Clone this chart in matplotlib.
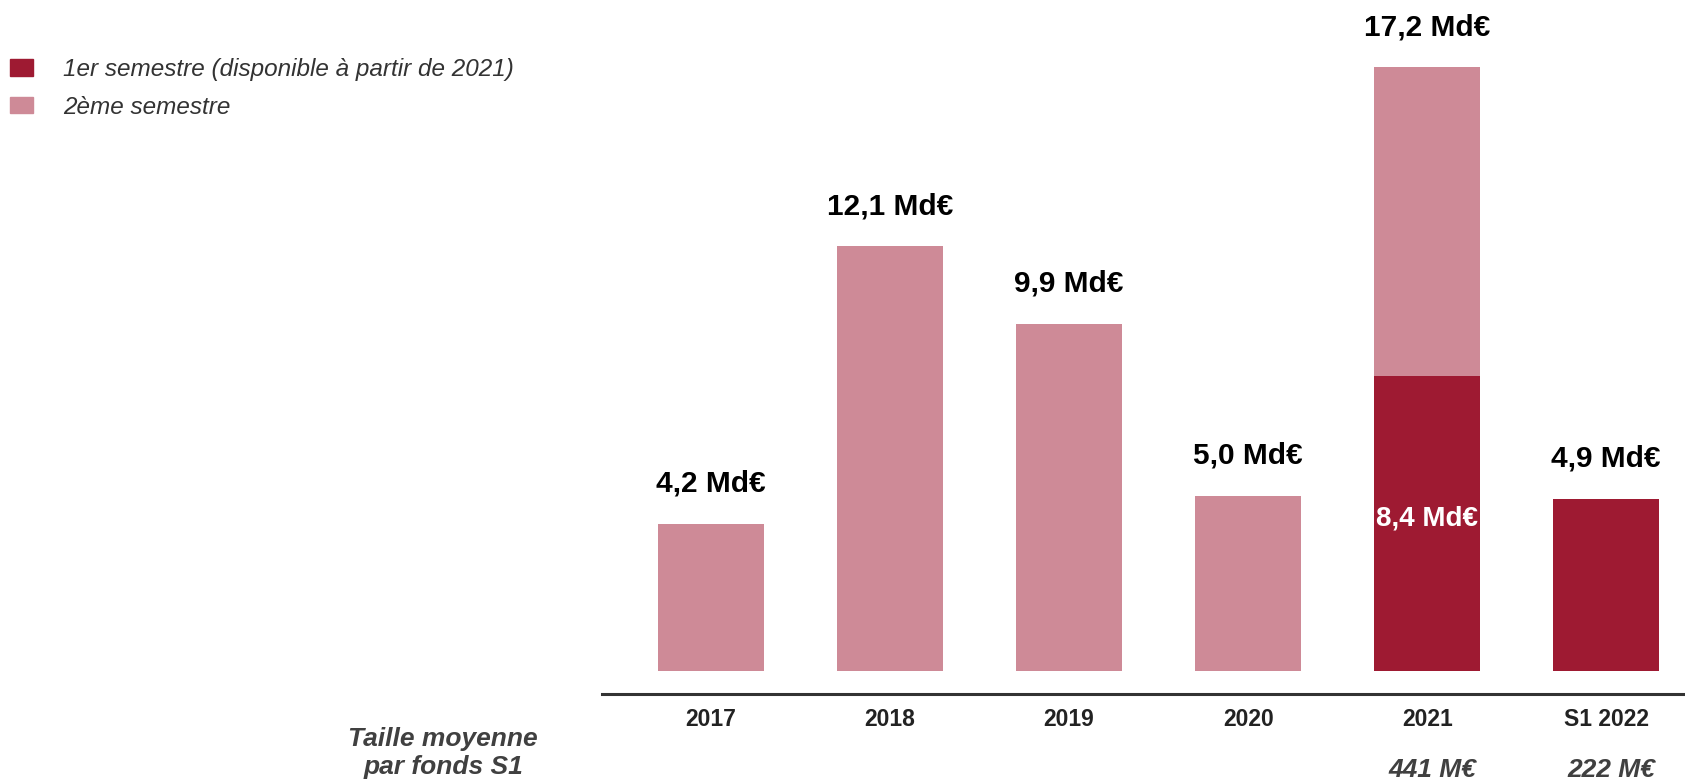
import numpy as np
import matplotlib
matplotlib.use('Agg')
import matplotlib.pyplot as plt
from matplotlib.patches import Rectangle

plt.rcParams['font.family'] = ['Liberation Sans', 'DejaVu Sans']

# Données
annees = ['2017', '2018', '2019', '2020', '2021', 'S1 2022']
semestre1 = [0, 0, 0, 0, 8.4, 4.9]
semestre2 = [4.2, 12.1, 9.9, 5.0, 8.8, 0]
etiquettes_total = ['4,2 Md€', '12,1 Md€', '9,9 Md€', '5,0 Md€', '17,2 Md€', '4,9 Md€']
etiquette_s1_2021 = '8,4 Md€'
taille_moyenne = ['', '', '', '', '441 M€', '222 M€']

rouge = '#9E1A32'
rose = '#CE8A97'

fig = plt.figure(figsize=(16.85, 7.82), dpi=100)
ax = fig.add_axes([602 / 1685, 88 / 782, 1 - 602 / 1685, 694 / 782])

x = np.arange(len(annees))
largeur = 0.592
ax.bar(x, semestre1, largeur, color=rouge)
ax.bar(x, semestre2, largeur, bottom=semestre1, color=rose)

totaux = np.array(semestre1) + np.array(semestre2)
for xi, tot, lab in zip(x, totaux, etiquettes_total):
    ax.annotate(lab, (xi, tot), xytext=(0, 29), textcoords='offset points',
                ha='center', va='center', fontsize=21.5, fontweight='bold', color='black')

ax.text(x[4], semestre1[4] / 2 + 0.15, etiquette_s1_2021, ha='center', va='center',
        fontsize=20, fontweight='bold', color='white')

for xi, lab in zip(x, taille_moyenne):
    if lab:
        ax.text(xi + 0.03, -0.11, lab, transform=ax.get_xaxis_transform(),
                ha='center', va='center', fontsize=19, fontweight='bold',
                fontstyle='italic', color='#404040', clip_on=False)

fig.text(443 / 1685, 29 / 782, 'Taille moyenne\npar fonds S1', ha='center', va='center',
         multialignment='center', fontsize=19, fontweight='bold', fontstyle='italic',
         color='#404040', linespacing=1.2)

ax.set_xlim(-0.609, 5.44)
ax.set_ylim(-0.655, 19.12)
ax.set_xticks(x)
ax.set_xticklabels(annees, fontsize=16.5, fontweight='bold', color='#222222')
ax.tick_params(axis='x', length=0, pad=10)
ax.set_yticks([])
for s in ['top', 'right', 'left']:
    ax.spines[s].set_visible(False)
ax.spines['bottom'].set_color('#333333')
ax.spines['bottom'].set_linewidth(2.2)

poignees = [Rectangle((0, 0), 1, 1, color=rouge), Rectangle((0, 0), 1, 1, color=rose)]
fig.legend(poignees, ['1er semestre (disponible à partir de 2021)', '2ème semestre'],
           loc='upper left', bbox_to_anchor=(10 / 1685, 1 - 58 / 782), frameon=False,
           borderpad=0, borderaxespad=0, handlelength=0.95, handleheight=0.65,
           handletextpad=1.25, labelspacing=0.6,
           prop={'size': 17.5, 'style': 'italic'}, labelcolor='#333333')

fig.savefig('out.png', dpi=100)
